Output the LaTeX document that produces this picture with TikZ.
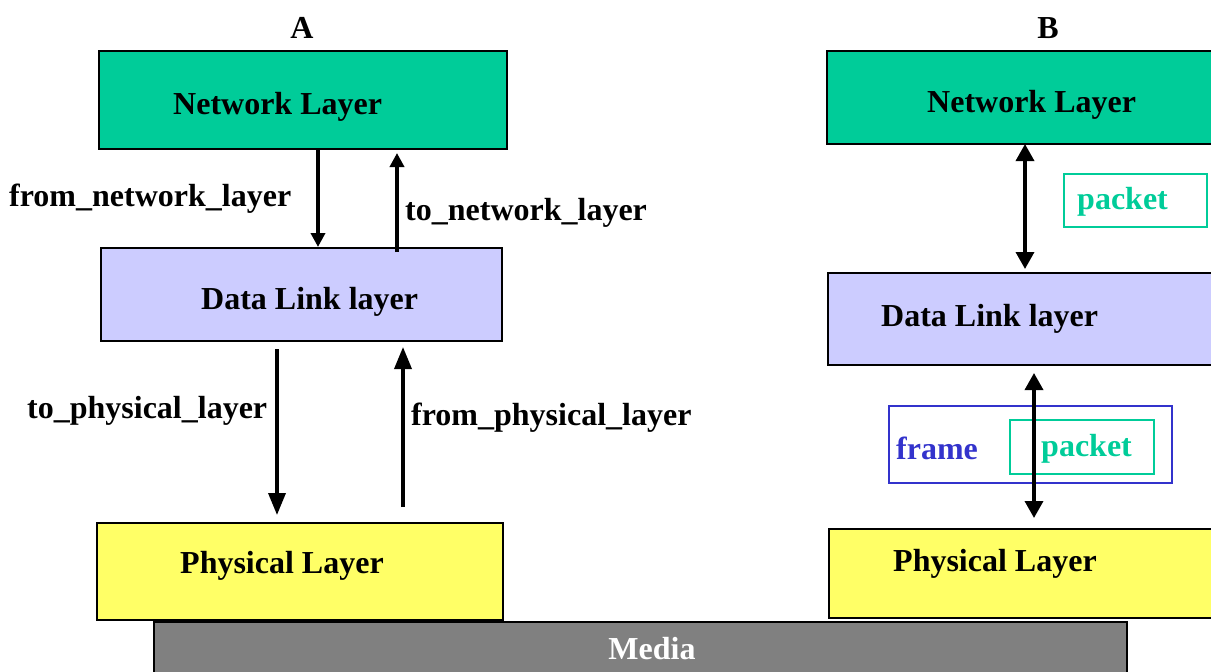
\documentclass[tikz,border=0pt]{standalone}
\usepackage{fontspec}
\setmainfont{Liberation Serif}
\usetikzlibrary{arrows.meta}
\definecolor{netgreen}{RGB}{0,204,153}
\definecolor{dllblue}{RGB}{204,204,255}
\definecolor{phyyellow}{RGB}{255,255,102}
\definecolor{mediagray}{RGB}{128,128,128}
\definecolor{frameblue}{RGB}{51,51,204}
\tikzset{
  layerbox/.style={draw=black, line width=2pt, anchor=north west, inner sep=0pt, minimum width=#1},
  txt/.style={inner sep=0pt, anchor=base west, font=\fontsize{32}{36}\selectfont\bfseries},
  ctxt/.style={txt, anchor=base},
  arrS/.style={line width=3.5pt, -{Triangle[width=14pt,length=14pt]}},
  arrL/.style={line width=3.5pt, -{Triangle[width=17pt,length=22pt]}},
  arrD/.style={line width=3.5pt, {Triangle[width=18pt,length=17pt]}-{Triangle[width=18pt,length=17pt]}},
}
\begin{document}
\begin{tikzpicture}[x=1pt,y=-1pt]
\useasboundingbox (0,0) rectangle (1211,672);
% ---- A side boxes
\node[layerbox=408pt, minimum height=98pt, fill=netgreen] (netA) at (98,50) {};
\node[layerbox=401pt, minimum height=93pt, fill=dllblue] (dllA) at (100,247) {};
\node[layerbox=406pt, minimum height=97pt, fill=phyyellow] (phyA) at (96,522) {};
% ---- B side boxes
\node[layerbox=400pt, minimum height=93pt, fill=netgreen] (netB) at (826,50) {};
\node[layerbox=400pt, minimum height=92pt, fill=dllblue] (dllB) at (827,272) {};
\node[layerbox=400pt, minimum height=89pt, fill=phyyellow] (phyB) at (828,528) {};
% ---- Media
\node[layerbox=973pt, minimum height=60pt, fill=mediagray] (media) at (153,621) {};
% ---- packet / frame boxes
\node[draw=netgreen, line width=2pt, anchor=north west, inner sep=0pt, minimum width=143pt, minimum height=53pt] (pkt1) at (1063,173) {};
\node[draw=frameblue, line width=2pt, anchor=north west, inner sep=0pt, minimum width=283pt, minimum height=77pt] (frm) at (888,405) {};
\node[draw=netgreen, line width=2pt, anchor=north west, inner sep=0pt, minimum width=144pt, minimum height=54pt] (pkt2) at (1009,419) {};
% ---- texts
\node[ctxt] (lA) at (302,38) {A};
\node[ctxt] (lB) at (1048,38) {B};
\node[txt] (tnetA) at (173,114) {Network Layer};
\node[txt] (tdllA) at (201,309) {Data Link layer};
\node[txt] (tphyA) at (180,573) {Physical Layer};
\node[txt] (tnetB) at (927,112) {Network Layer};
\node[txt] (tdllB) at (881,326) {Data Link layer};
\node[txt] (tphyB) at (893,571) {Physical Layer};
\node[ctxt, text=white] (tmedia) at (652,659) {Media};
\node[txt, text=netgreen] (tpkt1) at (1077,209) {packet};
\node[txt, text=frameblue] (tfrm) at (896,459) {frame};
\node[txt, text=netgreen] (tpkt2) at (1041,456) {packet};
\node[txt] (fnl) at (9,206) {from\_network\_layer};
\node[txt] (tnl) at (405,220) {to\_network\_layer};
\node[txt] (tpl) at (27,418) {to\_physical\_layer};
\node[txt] (fpl) at (411,425) {from\_physical\_layer};
% ---- arrow x positions
\coordinate (x1) at (318,0);
\coordinate (x2) at (397,0);
\coordinate (x3) at (277,0);
\coordinate (x4) at (403,0);
\coordinate (x5) at (1025,0);
\coordinate (x6) at (1034,0);
% ---- arrows A
\draw[arrS] (x1 |- netA.south) -- (x1 |- dllA.north);
\draw[arrS, shorten <=-5pt, shorten >=3pt] (x2 |- dllA.north) -- (x2 |- netA.south);
\draw[arrL, shorten <=7pt, shorten >=7pt] (x3 |- dllA.south) -- (x3 |- phyA.north);
\draw[arrL, shorten <=15pt, shorten >=5pt] (x4 |- phyA.north) -- (x4 |- dllA.south);
% ---- arrows B
\draw[arrD, shorten <=-1pt, shorten >=3pt] (x5 |- netB.south) -- (x5 |- dllB.north);
\draw[arrD, shorten <=7pt, shorten >=10pt] (x6 |- dllB.south) -- (x6 |- phyB.north);
\end{tikzpicture}
\end{document}
